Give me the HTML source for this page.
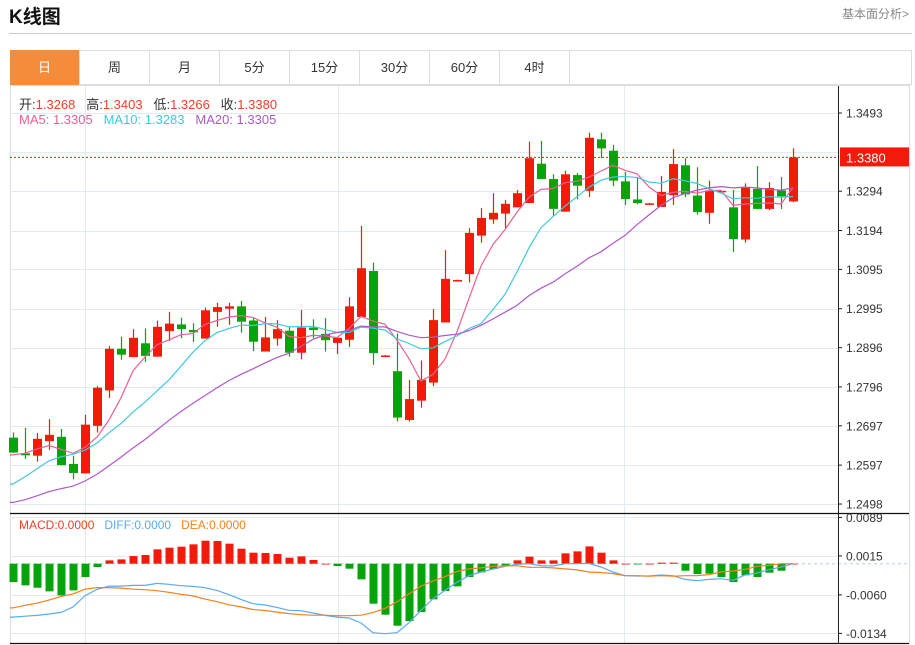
<!DOCTYPE html>
<html><head><meta charset="utf-8">
<style>
body{margin:0;width:915px;height:645px;background:#fff;font-family:"Liberation Sans","Noto Sans CJK SC",sans-serif;position:relative;overflow:hidden}
.t{position:absolute;white-space:nowrap}
.tab{position:absolute;top:50px;height:35px;width:70px;line-height:35px;text-align:center;font-size:13px;color:#333;border-right:1px solid #ddd;box-sizing:border-box}
</style></head><body>
<div class="t" style="left:9px;top:2px;font-size:19px;font-weight:bold;color:#111">K线图</div>
<div class="t" style="left:842px;top:5px;font-size:12px;color:#888">基本面分析&gt;</div>
<div style="position:absolute;left:9px;top:33px;width:903px;height:1px;background:#ccc"></div>
<div style="position:absolute;left:10px;top:50px;width:902px;height:35px;border:1px solid #ddd;box-sizing:border-box"></div>
<div class="tab" style="left:10px;background:#f48c3c;color:#fff">日</div>
<div class="tab" style="left:80px">周</div>
<div class="tab" style="left:150px">月</div>
<div class="tab" style="left:220px">5分</div>
<div class="tab" style="left:290px">15分</div>
<div class="tab" style="left:360px">30分</div>
<div class="tab" style="left:430px">60分</div>
<div class="tab" style="left:500px">4时</div>
<svg id="chart" style="position:absolute;left:0;top:0" width="915" height="645" xmlns="http://www.w3.org/2000/svg"></svg>
<script>
const opens=[1.2667,1.2627,1.2621,1.2658,1.2669,1.2600,1.2576,1.2697,1.2787,1.2893,1.2872,1.2907,1.2873,1.2938,1.2955,1.2941,1.2919,1.2987,1.2995,1.3001,1.2965,1.2886,1.2919,1.2939,1.2883,1.2947,1.2931,1.2908,1.2916,1.2974,1.3091,1.2875,1.2836,1.2712,1.2761,1.2807,1.2960,1.3068,1.3083,1.3181,1.3222,1.3237,1.3253,1.3264,1.3364,1.3325,1.3242,1.3335,1.3295,1.3426,1.3397,1.3319,1.3273,1.3263,1.3254,1.3284,1.3360,1.3283,1.3239,1.3294,1.3253,1.3171,1.3300,1.3249,1.3296,1.3268];
const highs=[1.2680,1.2692,1.2679,1.2714,1.2689,1.2621,1.2725,1.2798,1.2900,1.2924,1.2943,1.2945,1.2965,1.2987,1.2972,1.2958,1.2998,1.3010,1.3010,1.3015,1.2971,1.2974,1.2966,1.2949,1.2992,1.2968,1.2971,1.2921,1.3024,1.3206,1.3112,1.2877,1.2932,1.2814,1.2863,1.2994,1.3144,1.3069,1.3200,1.3251,1.3289,1.3272,1.3297,1.3420,1.3422,1.3337,1.3346,1.3340,1.3443,1.3443,1.3412,1.3343,1.3329,1.3264,1.3333,1.3401,1.3378,1.3355,1.3321,1.3296,1.3297,1.3314,1.3358,1.3317,1.3330,1.3403];
const lows=[1.2628,1.2613,1.2606,1.2636,1.2597,1.2561,1.2576,1.2680,1.2768,1.2865,1.2872,1.2860,1.2873,1.2913,1.2920,1.2910,1.2919,1.2949,1.2954,1.2934,1.2887,1.2886,1.2901,1.2873,1.2866,1.2920,1.2886,1.2880,1.2898,1.2974,1.2852,1.2874,1.2708,1.2708,1.2743,1.2798,1.2960,1.3067,1.3062,1.3163,1.3211,1.3200,1.3253,1.3264,1.3325,1.3232,1.3242,1.3273,1.3279,1.3378,1.3307,1.3259,1.3261,1.3262,1.3254,1.3259,1.3279,1.3234,1.3211,1.3293,1.3139,1.3163,1.3249,1.3246,1.3249,1.3266];
const closes=[1.2629,1.2622,1.2664,1.2674,1.2597,1.2577,1.2700,1.2794,1.2893,1.2878,1.2921,1.2875,1.2949,1.2957,1.2943,1.2935,1.2991,1.2999,1.3001,1.2962,1.2911,1.2922,1.2943,1.2883,1.2947,1.2941,1.2915,1.2921,1.3001,1.3098,1.2882,1.2876,1.2718,1.2765,1.2814,1.2966,1.3071,1.3068,1.3188,1.3226,1.3239,1.3262,1.3289,1.3378,1.3325,1.3249,1.3337,1.3308,1.3430,1.3403,1.3321,1.3274,1.3264,1.3263,1.3292,1.3363,1.3286,1.3241,1.3296,1.3295,1.3172,1.3303,1.3249,1.3302,1.3281,1.3380];
const priorCloses=[1.2480,1.2470,1.2460,1.2450,1.2440,1.2445,1.2450,1.2455,1.2440,1.2461,1.2440,1.2460,1.2470,1.2495,1.2510,1.2600,1.2610,1.2630,1.2646];
const macdHist=[-0.00353,-0.00417,-0.00462,-0.00532,-0.0061,-0.00513,-0.00256,-0.00064,0.00064,0.00083,0.00147,0.00167,0.00276,0.00308,0.00327,0.00372,0.00442,0.00436,0.00385,0.00288,0.00212,0.00205,0.00186,0.00115,0.00141,0.00071,0,-0.00045,-0.00096,-0.00301,-0.00769,-0.00981,-0.01192,-0.01103,-0.0093,-0.00686,-0.00526,-0.00436,-0.00256,-0.00167,-0.00103,-0.00032,0.00064,0.00135,0.00064,0.00064,0.00199,0.00237,0.00333,0.00212,0.00064,0,-0.00013,0,0.0002,0.0002,-0.00135,-0.00199,-0.00192,-0.00256,-0.00353,-0.00224,-0.00256,-0.00173,-0.00135,0];
const diffVals=[-0.01026,-0.0101,-0.00994,-0.00968,-0.00936,-0.00833,-0.00615,-0.00494,-0.0043,-0.0043,-0.00417,-0.00417,-0.00378,-0.00397,-0.00423,-0.00436,-0.00462,-0.00513,-0.00596,-0.00686,-0.00769,-0.00795,-0.0084,-0.00897,-0.00904,-0.00949,-0.00994,-0.01026,-0.01045,-0.01141,-0.01327,-0.01346,-0.01327,-0.01135,-0.00897,-0.00673,-0.00513,-0.00353,-0.00231,-0.0016,-0.00103,-0.00051,-0.00013,0,-0.00038,-0.00045,0,0,0.00006,-0.00064,-0.0016,-0.00231,-0.00237,-0.00237,-0.00218,-0.00231,-0.00301,-0.00327,-0.00301,-0.00288,-0.0032,-0.00218,-0.0018,-0.00115,-0.00064,0];
const deaVals=[-0.0085,-0.0080,-0.0076,-0.0070,-0.0063,-0.0058,-0.0049,-0.0046,-0.0046,-0.0047,-0.0049,-0.0050,-0.0052,-0.0055,-0.0059,-0.0062,-0.0068,-0.0073,-0.0079,-0.0083,-0.0088,-0.0090,-0.0093,-0.0096,-0.0098,-0.0099,-0.0099,-0.0100,-0.0100,-0.0099,-0.0094,-0.0086,-0.0073,-0.0058,-0.0043,-0.0033,-0.0025,-0.0015,-0.0010,-0.0008,-0.0005,-0.0004,-0.0004,-0.0007,-0.0007,-0.0008,-0.0010,-0.0012,-0.0016,-0.0017,-0.0019,-0.0023,-0.0023,-0.0024,-0.0023,-0.0024,-0.0023,-0.0023,-0.0021,-0.0016,-0.0014,-0.0011,-0.0005,-0.0003,0,0];
const priceTicks=["1.3493","1.3394","1.3294","1.3194","1.3095","1.2995","1.2896","1.2796","1.2697","1.2597","1.2498"];
const macdTicks=["0.0089","0.0015","-0.0060","-0.0134"];
const lastPrice=1.3380;

const NS="http://www.w3.org/2000/svg";
const svg=document.getElementById('chart');
function mk(tag,attrs,parent){const e=document.createElementNS(NS,tag);for(const k in attrs)e.setAttribute(k,attrs[k]);(parent||svg).appendChild(e);return e;}
const L=10,R=838,PT=88,PB=513,MT=514,MB=643;
const xAt=i=>13+i*12;
const yP=p=>113+(1.3493-p)*3930;
const yM=v=>563.7-v*5200;

// frame
let e=mk('rect',{x:10.5,y:85.5,width:899,height:558,fill:'none',stroke:'#ddd'});

// grids
const grid=mk('g',{});

priceTicks.forEach(t=>{const y=Math.round(yP(+t))+0.5;mk('line',{x1:L,x2:R,y1:y,y2:y,stroke:'#e3ebf2'},grid);});
macdTicks.forEach(t=>{const y=Math.round(yM(+t))+0.5;mk('line',{x1:L,x2:R,y1:y,y2:y,stroke:'#e3ebf2'},grid);});
[85,338,624].forEach(x=>mk('line',{x1:x+0.5,x2:x+0.5,y1:PT-2,y2:MB,stroke:'#e3ebf2'},grid));

// candles
const cg=mk('g',{});

closes.forEach((c,i)=>{
  const o=opens[i],up=c>=o,col=up?'#f21a0a':'#06a40a';const x=xAt(i);
  const g=mk('g',{},cg);
  
  
  mk('line',{x1:x+0.5,x2:x+0.5,y1:yP(highs[i]),y2:yP(lows[i]),stroke:col,'stroke-width':1.2},g);
  const t=yP(Math.max(o,c)),b=yP(Math.min(o,c));
  mk('rect',{x:x-4,y:t,width:9,height:Math.max(1.5,b-t),fill:col},g);
});
// MAs
const all=priorCloses.concat(closes),off=priorCloses.length;
function ma(n){return closes.map((c,i)=>{let s=0,k=0;for(let j=i+off;j>i+off-n&&j>=0;j--){s+=all[j];k++;}return s/k;});}
[[5,'#ee5f95','ma5-line'],[10,'#43c7df','ma10-line'],[20,'#b058c8','ma20-line']].forEach(([n,col,nm])=>{
  const v=ma(n);const d=v.map((p,i)=>(i?'L':'M')+xAt(i)+' '+yP(p).toFixed(1)).join(' ');
  const p=mk('path',{d:'M'+L+' '+yP(v[0]).toFixed(1)+' L'+d.slice(1),fill:'none',stroke:col,'stroke-width':1.2});
  
});
// last price line
const ly=yP(lastPrice);
e=mk('line',{x1:L,x2:R,y1:ly,y2:ly,stroke:'#f21a0a','stroke-dasharray':'2,2'});

e=mk('rect',{x:840,y:ly-10,width:69,height:19,fill:'#f21a0a'});

e=mk('text',{x:846,y:ly+5,fill:'#fff','font-size':13});e.textContent=lastPrice.toFixed(4);


// MACD
const zy=yM(0);
e=mk('line',{x1:L,x2:908,y1:zy,y2:zy,stroke:'#a8d4ec','stroke-dasharray':'3,3'});

const hg=mk('g',{});
macdHist.forEach((v,i)=>{const y=yM(v);const b=mk('rect',{x:xAt(i)-3.5,y:Math.min(y,zy),width:8,height:Math.max(0.8,Math.abs(y-zy)),fill:v>=0?'#f21a0a':'#06a40a'},hg);
  });
[[diffVals,'#5aaaf0','diff-line'],[deaVals,'#f5801e','dea-line']].forEach(([arr,col,nm])=>{
  const d='M'+L+' '+yM(arr[0]).toFixed(1)+' '+arr.map((v,i)=>'L'+xAt(i)+' '+yM(v).toFixed(1)).join(' ');
  const p=mk('path',{d:d,fill:'none',stroke:col,'stroke-width':1.2});
  
});

// axes
e=mk('line',{x1:R+0.5,x2:R+0.5,y1:86,y2:MB,stroke:'#222'});

e=mk('line',{x1:L,x2:909,y1:PB+0.5,y2:PB+0.5,stroke:'#111','stroke-width':1.3});

e=mk('line',{x1:L,x2:909,y1:MB+0.5,y2:MB+0.5,stroke:'#111','stroke-width':1.3});

priceTicks.forEach(t=>{const y=yP(+t);if(Math.abs(y-ly)<12)return;
  mk('line',{x1:R,x2:R+4,y1:y,y2:y,stroke:'#222'});
  const tx=mk('text',{x:846,y:y+4.5,fill:'#333','font-size':12});tx.textContent=t;
  });
macdTicks.forEach(t=>{const y=yM(+t);
  mk('line',{x1:R,x2:R+4,y1:y,y2:y,stroke:'#222'});
  const tx=mk('text',{x:846,y:y+4.5,fill:'#333','font-size':12});tx.textContent=t;
  });
</script>
<div class="t" style="left:19px;top:94px;font-size:13px;color:#333">开:<span style="color:#f0402a">1.3268</span>&nbsp;&nbsp;&nbsp;高:<span style="color:#f0402a">1.3403</span>&nbsp;&nbsp;&nbsp;低:<span style="color:#f0402a">1.3266</span>&nbsp;&nbsp;&nbsp;收:<span style="color:#f0402a">1.3380</span></div>
<div class="t" style="left:19px;top:112px;font-size:13px"><span style="color:#ee5f95">MA5: 1.3305</span>&nbsp;&nbsp;&nbsp;<span style="color:#43c7df">MA10: 1.3283</span>&nbsp;&nbsp;&nbsp;<span style="color:#b058c8">MA20: 1.3305</span></div>
<div class="t" style="left:19px;top:518px;font-size:12px"><span style="color:#f0402a">MACD:0.0000</span>&nbsp;&nbsp;&nbsp;<span style="color:#5aaaf0">DIFF:0.0000</span>&nbsp;&nbsp;&nbsp;<span style="color:#f5801e">DEA:0.0000</span></div>
</body></html>
